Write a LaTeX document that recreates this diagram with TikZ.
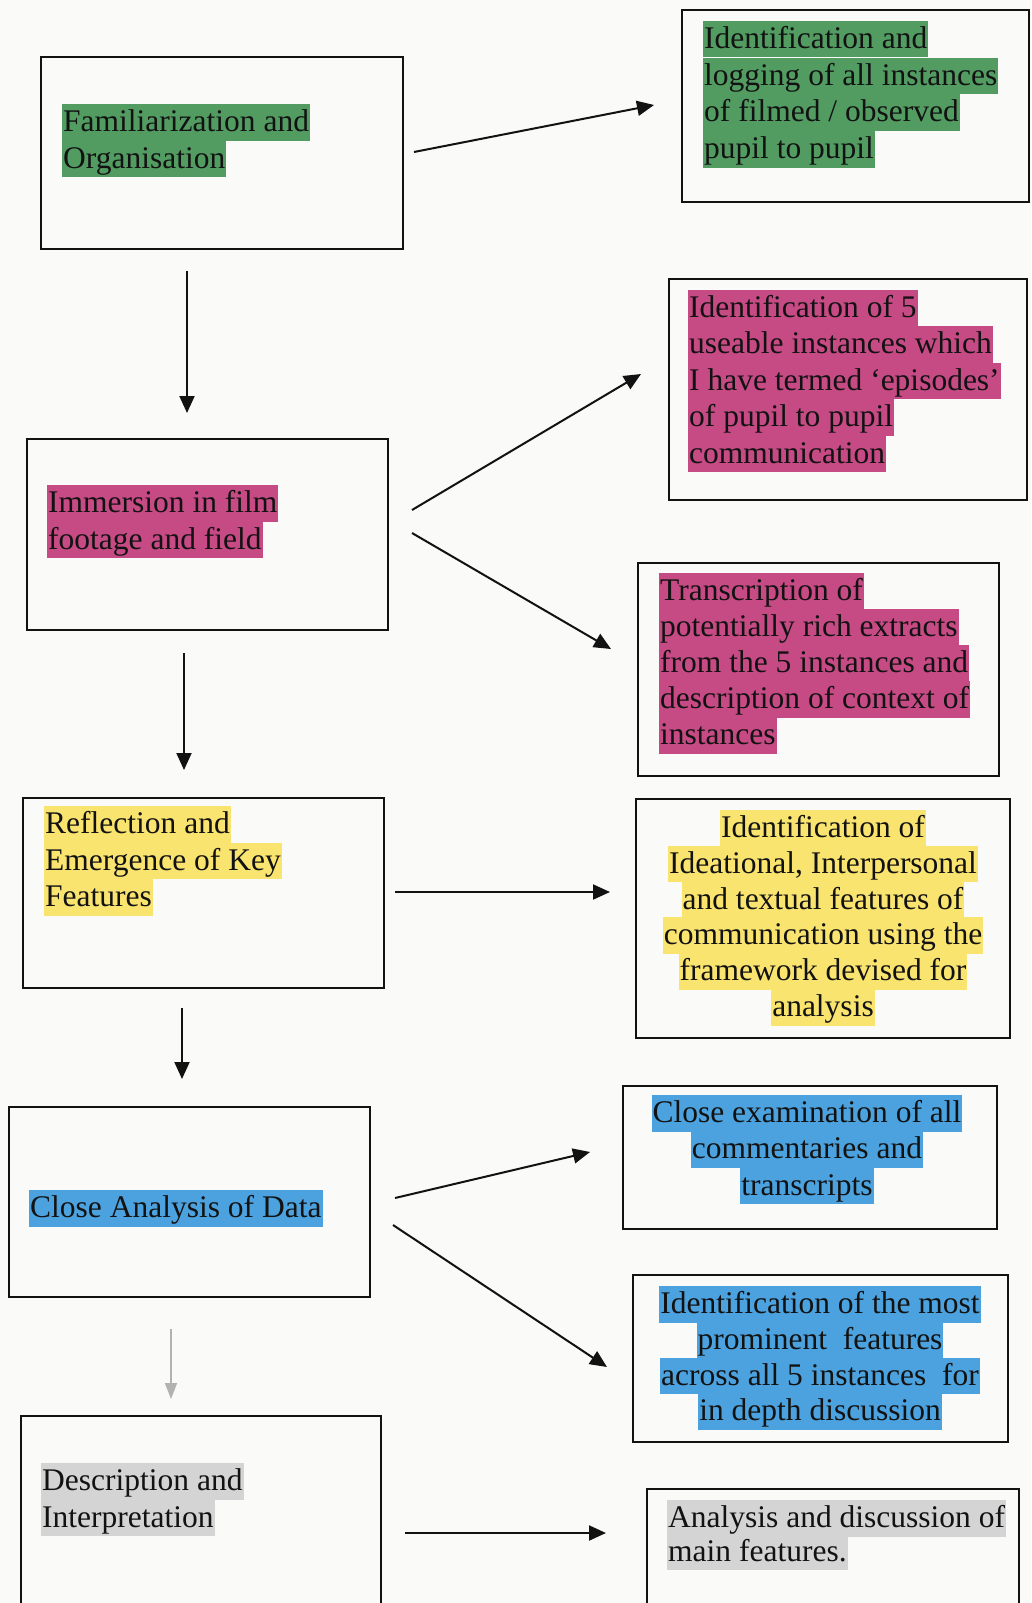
\documentclass[tikz,border=0pt]{standalone}
\usepackage{fontspec}
\setmainfont{Liberation Serif}
\usetikzlibrary{arrows.meta}
\newcommand\mainsize{\fontsize{31.5bp}{36.5bp}\selectfont}
\definecolor{pagebg}{RGB}{250,250,249}
\definecolor{hlgreen}{RGB}{82,156,98}
\definecolor{hlmag}{RGB}{198,74,132}
\definecolor{hlyel}{RGB}{250,228,112}
\definecolor{hlblue}{RGB}{76,162,222}
\definecolor{hlgray}{RGB}{212,212,212}
\definecolor{inkc}{RGB}{18,18,18}
\definecolor{arrgray}{RGB}{178,178,178}
\tikzset{
  box/.style={draw=inkc, line width=2bp, inner sep=0pt, anchor=north west},
  hl/.style={fill=#1, text=inkc, inner xsep=1bp, inner ysep=0pt, text height=27.5bp, text depth=9bp, font=\mainsize},
  hll/.style={hl=#1, anchor=base west},
  hlc/.style={hl=#1, anchor=base},
  arr/.style={draw=inkc, line width=2bp, -{Triangle[length=17bp,width=15bp]}},
  garr/.style={draw=arrgray, line width=1.6bp, -{Triangle[length=16bp,width=12bp]}},
}
\begin{document}
\begin{tikzpicture}[x=1bp,y=-1bp]
\useasboundingbox (0,0) rectangle (1031,1603);
\clip (0,0) rectangle (1031,1603);
\fill[pagebg] (0,0) rectangle (1031,1603);

% ---- left column boxes
\node[box, minimum width=362bp, minimum height=192bp] (b1) at (40,56) {};
\node[box, minimum width=361bp, minimum height=191bp] (im) at (26,438) {};
\node[box, minimum width=361bp, minimum height=190bp] (re) at (22,797) {};
\node[box, minimum width=361bp, minimum height=190bp] (cl) at (8,1106) {};
\node[box, minimum width=360bp, minimum height=210bp] (de) at (20,1415) {};

% ---- right column boxes
\node[box, minimum width=347bp, minimum height=192bp] (b2) at (681,9) {};
\node[box, minimum width=358bp, minimum height=221bp] (b3) at (668,278) {};
\node[box, minimum width=361bp, minimum height=213bp] (b4) at (637,562) {};
\node[box, minimum width=374bp, minimum height=239bp] (b5) at (635,798) {};
\node[box, minimum width=374bp, minimum height=143bp] (b6) at (622,1085) {};
\node[box, minimum width=375bp, minimum height=167bp] (b7) at (632,1274) {};
\node[box, minimum width=372bp, minimum height=130bp] (b8) at (646,1488) {};

% ---- left texts
\node[hll=hlgreen] (t1a) at (62,131.5) {Familiarization and};
\node[hll=hlgreen] (t1b) at (62,168) {Organisation};

\node[hll=hlmag] (tia) at (47,512.5) {Immersion in film};
\node[hll=hlmag] (tib) at (47,549) {footage and field};

\node[hll=hlyel] (tra) at (44,833.5) {Reflection and};
\node[hll=hlyel] (trb) at (44,870) {Emergence of Key};
\node[hll=hlyel] (trc) at (44,906.5) {Features};

\node[hll=hlblue] (tca) at (29,1217.5) {Close Analysis of Data};

\node[hll=hlgray] (tda) at (41,1490.5) {Description and};
\node[hll=hlgray] (tdb) at (41,1527) {Interpretation};

% ---- right texts
\node[hll=hlgreen] (t2a) at (703,48.5) {Identification and};
\node[hll=hlgreen] (t2b) at (703,85.2) {logging of all instances};
\node[hll=hlgreen] (t2c) at (703,121.9) {of filmed / observed};
\node[hll=hlgreen] (t2d) at (703,158.6) {pupil to pupil};

\node[hll=hlmag] (t3a) at (688,317.5) {Identification of 5};
\node[hll=hlmag] (t3b) at (688,353.9) {useable instances which};
\node[hll=hlmag] (t3c) at (688,390.3) {I have termed ‘episodes’};
\node[hll=hlmag] (t3d) at (688,426.7) {of pupil to pupil};
\node[hll=hlmag] (t3e) at (688,463.1) {communication};

\node[hll=hlmag] (t4a) at (659,600.5) {Transcription of};
\node[hll=hlmag] (t4b) at (659,636.5) {potentially rich extracts};
\node[hll=hlmag] (t4c) at (659,672.5) {from the 5 instances and};
\node[hll=hlmag] (t4d) at (659,708.5) {description of context of};
\node[hll=hlmag] (t4e) at (659,744.5) {instances};

\node[hlc=hlyel] (t5a) at (823,837.5) {Identification of};
\node[hlc=hlyel] (t5b) at (823,873.3) {Ideational, Interpersonal};
\node[hlc=hlyel] (t5c) at (823,909.1) {and textual features of};
\node[hlc=hlyel] (t5d) at (823,944.9) {communication using the};
\node[hlc=hlyel] (t5e) at (823,980.7) {framework devised for};
\node[hlc=hlyel] (t5f) at (823,1016.5) {analysis};

\node[hlc=hlblue] (t6a) at (807,1122.5) {Close examination of all};
\node[hlc=hlblue] (t6b) at (807,1158.8) {commentaries and};
\node[hlc=hlblue] (t6c) at (807,1195.1) {transcripts};

\node[hlc=hlblue] (t7a) at (820,1313.5) {Identification of the most};
\node[hlc=hlblue] (t7b) at (820,1349.3) {prominent\ \ features};
\node[hlc=hlblue] (t7c) at (820,1385.1) {across all 5 instances\ \ for};
\node[hlc=hlblue] (t7d) at (820,1420.9) {in depth discussion};

\node[hll=hlgray] (t8a) at (667,1527.5) {Analysis and discussion of};
\node[hll=hlgray] (t8b) at (667,1561) {main features.};

% ---- connector end points
\coordinate (a1s) at (414,152);  \coordinate (a1e) at (654,105);
\coordinate (v1s) at (187,271);  \coordinate (v1e) at (187,413);
\coordinate (a2s) at (412,510);  \coordinate (a2e) at (641,374);
\coordinate (a3s) at (412,533);  \coordinate (a3e) at (611,649);
\coordinate (v2s) at (184,653);  \coordinate (v2e) at (184,770);
\coordinate (a4s) at (395,892);  \coordinate (a4e) at (610,892);
\coordinate (v3s) at (182,1008); \coordinate (v3e) at (182,1079);
\coordinate (a5s) at (395,1198); \coordinate (a5e) at (590,1152);
\coordinate (a6s) at (393,1225); \coordinate (a6e) at (607,1367);
\coordinate (v4s) at (171,1329); \coordinate (v4e) at (171,1399);
\coordinate (a7s) at (405,1533); \coordinate (a7e) at (606,1533);

\draw[arr] (a1s) -- (a1e);
\draw[arr] (v1s) -- (v1e);
\draw[arr] (a2s) -- (a2e);
\draw[arr] (a3s) -- (a3e);
\draw[arr] (v2s) -- (v2e);
\draw[arr] (a4s) -- (a4e);
\draw[arr] (v3s) -- (v3e);
\draw[arr] (a5s) -- (a5e);
\draw[arr] (a6s) -- (a6e);
\draw[garr] (v4s) -- (v4e);
\draw[arr] (a7s) -- (a7e);
\end{tikzpicture}
\end{document}
